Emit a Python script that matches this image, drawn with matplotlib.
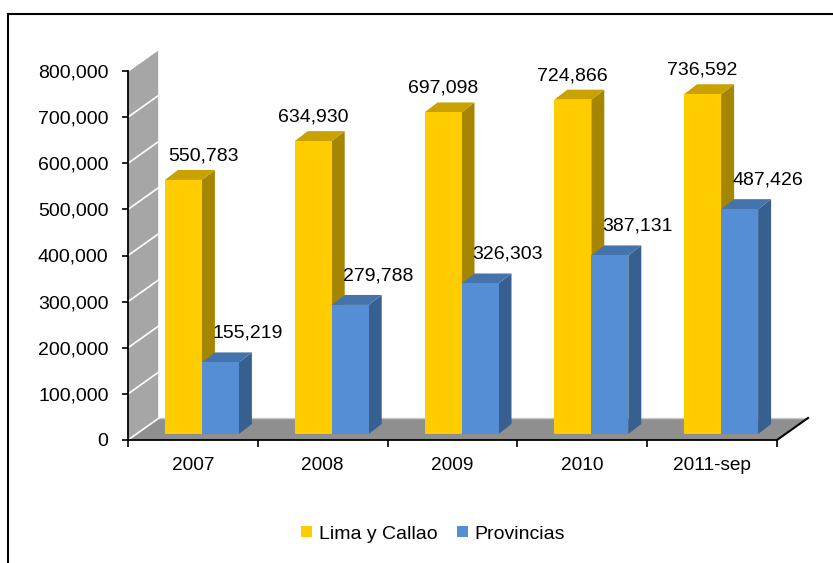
import matplotlib
matplotlib.use("Agg")
import matplotlib.pyplot as plt
from matplotlib.patches import Polygon, Patch, Rectangle
from matplotlib.ticker import FuncFormatter

plt.rcParams['font.family'] = ['Liberation Sans', 'DejaVu Sans']

years = ['2007', '2008', '2009', '2010', '2011-sep']
lima_callao = [550783, 634930, 697098, 724866, 736592]
provincias = [155219, 279788, 326303, 387131, 487426]
series_names = ['Lima y Callao', 'Provincias']

# face colours: front, top, side
yellow = ('#FFCC00', '#C9A200', '#A68500')
blue = ('#558ED5', '#4573AC', '#375F8F')

fig = plt.figure(figsize=(8.33, 5.63), dpi=100)
ax = fig.add_axes([128 / 833, 123 / 563, 649 / 833, 369 / 563])
ax.set_xlim(-0.5, 4.5)
ax.set_ylim(0, 800000)

# pseudo 3d depth in data units
px_x = 649 / 5.0
px_y = 800000 / 369.0
DX, DY = 31 / px_x, 22 * px_y        # wall / floor depth
BDX, BDY = 13 / px_x, 10 * px_y      # bar depth
SX, SY = 9 / px_x, 6 * px_y          # bars sit a bit back on the floor
W = 37 / px_x                        # bar width


def poly(pts, color, z):
    ax.add_patch(Polygon(pts, closed=True, facecolor=color, edgecolor='none',
                         zorder=z, clip_on=False))


# side wall and floor
poly([(-0.5, 0), (-0.5 + DX, DY), (-0.5 + DX, 800000 + DY), (-0.5, 800000)], '#A6A6A6', 1)
poly([(-0.5, 0), (4.5, 0), (4.5 + DX, DY), (-0.5 + DX, DY)], '#8F8F8F', 1)
ax.plot([-0.5 + DX, 4.5 + DX], [DY, DY], color='#C8C8C8', lw=1, zorder=1.5, clip_on=False)
ax.plot([-0.5 + DX, -0.5 + DX], [DY, 800000 + DY], color='white', lw=1.2, zorder=1.5, clip_on=False)
for v in range(0, 800001, 100000):
    ax.plot([-0.5, -0.5 + DX], [v, v + DY], color='white', lw=1.2, zorder=1.5, clip_on=False)
ax.plot([4.5, 4.5 + DX], [0, DY], color='black', lw=1.5, zorder=2, clip_on=False)


def bar3d(x0, h, cols, z):
    y0 = SY
    front, top, side = cols
    poly([(x0 + W, y0), (x0 + W + BDX, y0 + BDY), (x0 + W + BDX, y0 + h + BDY), (x0 + W, y0 + h)], side, z)
    poly([(x0, y0 + h), (x0 + W, y0 + h), (x0 + W + BDX, y0 + h + BDY), (x0 + BDX, y0 + h + BDY)], top, z)
    poly([(x0, y0), (x0 + W, y0), (x0 + W, y0 + h), (x0, y0 + h)], front, z)


wall_edge = -0.5 + DX
for i in range(len(years)):
    xl = i - W + SX
    xb = i + SX
    bar3d(xl, lima_callao[i], yellow, 3 + i)
    bar3d(xb, provincias[i], blue, 3.5 + i)

    # value labels
    cx = max(xl + W / 2, wall_edge + 44 / px_x)
    ax.text(cx, SY + lima_callao[i] + 24 * px_y, f'{lima_callao[i]:,}',
            ha='center', va='center', fontsize=14, zorder=10)
    ax.text(xb + BDX - 2 / px_x, SY + provincias[i] + 29 * px_y, f'{provincias[i]:,}',
            ha='left', va='center', fontsize=14, zorder=10)

# axes styling
for s in ['top', 'right']:
    ax.spines[s].set_visible(False)
for s in ['left', 'bottom']:
    ax.spines[s].set_linewidth(1.3)
    ax.spines[s].set_zorder(2)
ax.set_yticks(range(0, 800001, 100000))
ax.yaxis.set_major_formatter(FuncFormatter(lambda v, p: f'{int(v):,}'))
ax.tick_params(axis='y', length=4, width=1.2, pad=10, labelsize=14)
ax.set_xticks(range(len(years)))
ax.set_xticklabels(years)
ax.set_xticks([i - 0.5 for i in range(len(years) + 1)], minor=True)
ax.tick_params(axis='x', which='major', length=0, pad=12, labelsize=13.7)
ax.tick_params(axis='x', which='minor', length=5, width=1.2)
ax.patch.set_visible(False)

handles = [Patch(facecolor=yellow[0]), Patch(facecolor=blue[0])]
fig.legend(handles, series_names, loc='center', bbox_to_anchor=(0.52, 0.0515),
           ncol=2, frameon=False, fontsize=14, handlelength=0.55, handleheight=0.55,
           handletextpad=0.35, columnspacing=1.0)

# chart border
fig.add_artist(Rectangle((8 / 833, -0.05), 1.0, 1.05 - 14 / 563, transform=fig.transFigure,
                         fill=False, edgecolor='black', lw=1.5))

fig.savefig('out.png', dpi=100)
